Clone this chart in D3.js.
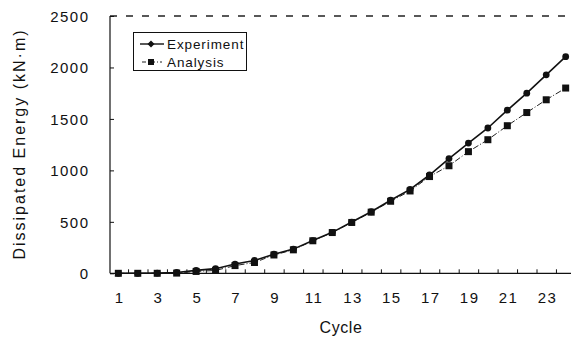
<!DOCTYPE html>
<html><head><meta charset="utf-8">
<script src="https://cdn.jsdelivr.net/npm/d3@7/dist/d3.min.js"></script>
<style>body{margin:0;background:#fff}svg{display:block}text{font-family:"Liberation Sans",Arial,sans-serif;fill:#111}</style>
</head><body><svg id="c" width="571" height="340"></svg>
<script>
const cycles = d3.range(1, 25);
const experiment = [0,0,2,8,28,45,90,125,185,235,318,398,498,598,710,815,955,1115,1265,1412,1585,1750,1928,2105];
const analysis = [0,0,0,2,18,28,75,105,178,228,316,396,494,594,700,800,940,1045,1182,1298,1434,1562,1686,1800];
const xTicks = [1,3,5,7,9,11,13,15,17,19,21,23];
const yTicks = [0,500,1000,1500,2000,2500];

const svg = d3.select("#c");
const x = d3.scaleLinear().domain([0.5, 24.5]).range([108.6, 575.4]);
const y = d3.scaleLinear().domain([0, 2500]).range([273.3, 16]);
const x0 = 110, x1 = 571;

// axes lines
svg.append("line").attr("x1", x0).attr("x2", x1).attr("y1", y(0)).attr("y2", y(0)).attr("stroke", "#111").attr("stroke-width", 1.2);
svg.append("line").attr("x1", x0).attr("x2", x0).attr("y1", y(0)).attr("y2", y(2500)).attr("stroke", "#111").attr("stroke-width", 1.2);
svg.append("line").attr("x1", x0).attr("x2", x1).attr("y1", y(2500)).attr("y2", y(2500)).attr("stroke", "#222").attr("stroke-width", 1.3).attr("stroke-dasharray", "7,9");

// y axis
const yAxis = d3.axisLeft(y).tickValues(yTicks).tickSize(-4).tickPadding(20.5).tickFormat(d3.format("d"));
const gy = svg.append("g").attr("transform", `translate(${x0},0)`).call(yAxis);
gy.select(".domain").remove();
gy.selectAll(".tick text").attr("font-size", 15).attr("letter-spacing", "1.5px").attr("dy", "0.36em");
gy.selectAll(".tick line").attr("stroke", "#111");

// x axis ticks (between cycles)
const xMinor = d3.range(1.5, 24, 1);
const gxm = svg.append("g").attr("transform", `translate(0,${y(0)})`).call(d3.axisBottom(x).tickValues(xMinor).tickSize(-4).tickFormat(""));
gxm.select(".domain").remove();
gxm.selectAll(".tick line").attr("stroke", "#111");
const gx = svg.append("g").attr("transform", `translate(0,${y(0)})`).call(d3.axisBottom(x).tickValues(xTicks).tickSize(0).tickPadding(19));
gx.select(".domain").remove();
gx.selectAll(".tick text").attr("font-size", 15).attr("letter-spacing", "1.5px").attr("dx", "0.75px");

// titles
svg.append("text").attr("x", 341).attr("y", 333).attr("text-anchor", "middle").attr("font-size", 16).attr("letter-spacing", "0.6px").text("Cycle");
svg.append("text").attr("transform", "translate(24.5,144) rotate(-90)").attr("text-anchor", "middle").attr("font-size", 16).attr("letter-spacing", "2px").text("Dissipated Energy (kN·m)");

// lines
const line = d3.line().x((d, i) => x(cycles[i])).y(d => y(d));
svg.append("path").datum(analysis).attr("d", line).attr("fill", "none").attr("stroke", "#222").attr("stroke-width", 1).attr("stroke-dasharray", "6,2,1,2");
svg.append("path").datum(experiment).attr("d", line).attr("fill", "none").attr("stroke", "#111").attr("stroke-width", 1.6);

// markers
svg.append("g").selectAll("rect").data(analysis).join("rect")
  .attr("x", (d, i) => x(cycles[i]) - 3.5).attr("y", d => y(d) - 3.5).attr("width", 7).attr("height", 7).attr("fill", "#111");
svg.append("g").selectAll("circle").data(experiment).join("circle")
  .attr("cx", (d, i) => x(cycles[i])).attr("cy", d => y(d)).attr("r", 3.4).attr("fill", "#111");

// legend
const lg = svg.append("g");
lg.append("rect").attr("x", 133.5).attr("y", 32.5).attr("width", 113).attr("height", 38).attr("fill", "#fff").attr("stroke", "#111").attr("stroke-width", 1);
lg.append("line").attr("x1", 140).attr("x2", 164).attr("y1", 44).attr("y2", 44).attr("stroke", "#111").attr("stroke-width", 1.4);
lg.append("path").attr("d", "M151,40.5L154.5,44L151,47.5L147.5,44Z").attr("fill", "#111");
lg.append("line").attr("x1", 142).attr("x2", 162).attr("y1", 62).attr("y2", 62).attr("stroke", "#222").attr("stroke-width", 1).attr("stroke-dasharray", "4,2,1,2");
lg.append("rect").attr("x", 148).attr("y", 59).attr("width", 6).attr("height", 6).attr("fill", "#111");
lg.append("text").attr("x", 167).attr("y", 49).attr("font-size", 13.5).attr("letter-spacing", "0.9px").text("Experiment");
lg.append("text").attr("x", 167).attr("y", 67).attr("font-size", 13.5).attr("letter-spacing", "0.9px").text("Analysis");
</script></body></html>
